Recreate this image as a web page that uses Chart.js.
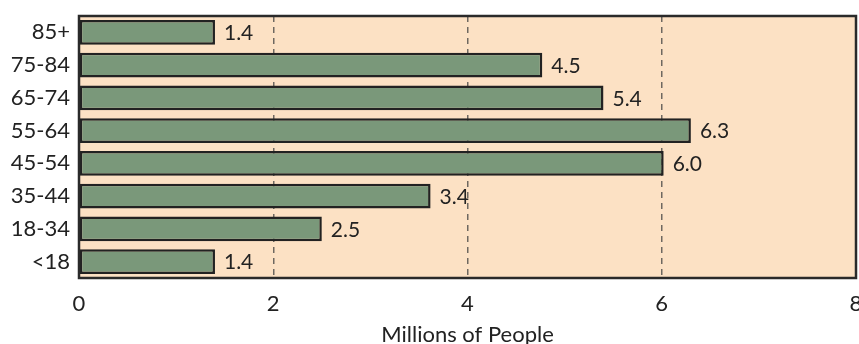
<!DOCTYPE html>
<html>
<head>
<meta charset="utf-8">
<script src="https://cdn.jsdelivr.net/npm/chart.js@4.4.1/dist/chart.umd.min.js"></script>
<style>
  html, body { margin: 0; padding: 0; background: #ffffff; overflow: hidden; }
  #wrap { width: 859px; height: 344px; position: relative; }
</style>
</head>
<body>
<div id="wrap"><canvas id="ages"></canvas></div>
<script>
const ageGroups = ['85+', '75-84', '65-74', '55-64', '45-54', '35-44', '18-34', '<18'];
// bar lengths as drawn in the picture (millions)
const barLengths = [1.4, 4.77, 5.4, 6.3, 6.02, 3.62, 2.5, 1.4];
// numbers printed next to the bars
const printedValues = ['1.4', '4.5', '5.4', '6.3', '6.0', '3.4', '2.5', '1.4'];
const xTicks = [0, 2, 4, 6, 8];

const FONT = 'Lato, "Open Sans", sans-serif';
const INK = '#222222';

const plotBackground = {
  id: 'plotBackground',
  beforeDraw(chart) {
    const { ctx, chartArea: a } = chart;
    ctx.save();
    ctx.fillStyle = '#fce1c4';
    ctx.fillRect(a.left, a.top, a.right - a.left, a.bottom - a.top);
    ctx.restore();
  },
  afterDraw(chart) {
    const { ctx, chartArea: a } = chart;
    ctx.save();
    ctx.strokeStyle = '#2a2a2a';
    ctx.lineWidth = 2.5;
    ctx.strokeRect(a.left, a.top, a.right - a.left, a.bottom - a.top);
    ctx.restore();
  }
};

const valueLabels = {
  id: 'valueLabels',
  afterDatasetsDraw(chart) {
    const { ctx } = chart;
    const meta = chart.getDatasetMeta(0);
    ctx.save();
    ctx.font = '21px ' + FONT;
    ctx.fillStyle = INK;
    ctx.textAlign = 'left';
    ctx.textBaseline = 'middle';
    meta.data.forEach((bar, i) => {
      ctx.fillText(printedValues[i], bar.x + 9, bar.y + 1);
    });
    ctx.restore();
  }
};

new Chart(document.getElementById('ages').getContext('2d'), {
  type: 'bar',
  data: {
    labels: ageGroups,
    datasets: [{
      data: barLengths,
      backgroundColor: '#7a987a',
      borderColor: '#222222',
      borderWidth: 2.5,
      borderSkipped: false,
      barPercentage: 0.76,
      categoryPercentage: 1
    }]
  },
  options: {
    indexAxis: 'y',
    responsive: true,
    maintainAspectRatio: false,
    animation: false,
    layout: { padding: { top: 16, right: 3, bottom: 0, left: 0 } },
    scales: {
      x: {
        min: 0,
        max: 8,
        afterBuildTicks: (s) => { s.ticks = xTicks.map((v) => ({ value: v })); },
        afterFit: (s) => { s.height = 66; s.paddingRight = 0; s.paddingLeft = 0; },
        grid: {
          drawTicks: false,
          lineWidth: 1.5,
          color: (c) => (c.tick && (c.tick.value === 0 || c.tick.value === 8)) ? 'rgba(0,0,0,0)' : '#6e6860'
        },
        border: { display: false, dash: [6, 5] },
        ticks: {
          padding: 13,
          color: INK,
          font: { family: FONT, size: 22 }
        },
        title: {
          display: true,
          text: 'Millions of People',
          color: INK,
          padding: { top: 0, bottom: -2 },
          font: { family: FONT, size: 22, lineHeight: 1 }
        }
      },
      y: {
        afterFit: (s) => { s.width = 79; s.paddingTop = 0; s.paddingBottom = 0; },
        grid: { display: false, drawTicks: false },
        border: { display: false },
        ticks: {
          padding: 9,
          color: INK,
          font: { family: FONT, size: 22 }
        }
      }
    },
    plugins: {
      legend: { display: false },
      title: { display: false },
      tooltip: { enabled: false }
    }
  },
  plugins: [plotBackground, valueLabels]
});
</script>
</body>
</html>
